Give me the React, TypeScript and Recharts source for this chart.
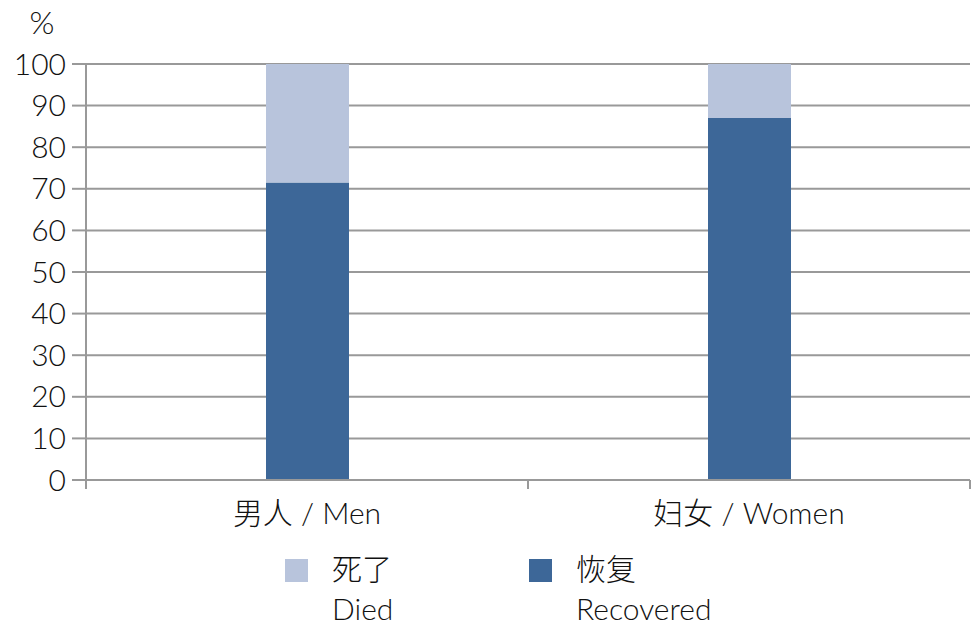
import React from 'react';
import { BarChart, Bar, XAxis, YAxis, CartesianGrid, Legend } from 'recharts';

const categories = ['男人 / Men', '妇女 / Women'];
const recovered = [71.5, 87];
const died = [28.5, 13];
const yTicks = [0, 10, 20, 30, 40, 50, 60, 70, 80, 90, 100];
const seriesZh = { recovered: '恢复', died: '死了' };
const seriesEn = { recovered: 'Recovered', died: 'Died' };

const data = categories.map((c, i) => ({ name: c, recovered: recovered[i], died: died[i] }));

const FONT = "Lato, 'Noto Sans CJK SC', sans-serif";
const WEIGHT = 300;
const GREY = '#999999';
const LIGHT = '#b8c4dc';
const DARK = '#3d6798';

const XTick = (props: any) => {
  const { x, y, payload } = props;
  const off = payload.offset || 0;
  return (
    <g>
      <line x1={x - off} x2={x - off} y1={y - 8} y2={y + 1} stroke={GREY} strokeWidth={2} />
      <line x1={x + off} x2={x + off} y1={y - 8} y2={y + 1} stroke={GREY} strokeWidth={2} />
      <text x={x} y={y + 36} textAnchor="middle" fontSize={30} fontWeight={WEIGHT} fontFamily={FONT} fill="#111">
        {payload.value}
      </text>
    </g>
  );
};

const LegendContent = (props: any) => {
  const items = [...(props.payload || [])].reverse();
  return (
    <div style={{ display: 'flex', paddingLeft: 285, fontFamily: FONT, fontWeight: WEIGHT, color: '#111' }}>
      {items.map((it: any) => (
        <div key={it.dataKey} style={{ display: 'flex', width: 244, alignItems: 'flex-start' }}>
          <div style={{ width: 23, height: 23, background: it.color, marginTop: 11, marginRight: 24 }} />
          <div style={{ fontSize: 30, lineHeight: '40px' }}>
            <div>{(seriesZh as any)[it.dataKey]}</div>
            <div>{(seriesEn as any)[it.dataKey]}</div>
          </div>
        </div>
      ))}
    </div>
  );
};

export default function App() {
  return (
    <div style={{ position: 'absolute', left: 0, top: 0, width: 972, height: 634, background: '#fff' }}>
      <BarChart
        width={972}
        height={634}
        data={data}
        margin={{ top: 64, right: 2, left: 0, bottom: 94 }}
      >
        <CartesianGrid vertical={false} stroke={GREY} strokeWidth={2} />
        <XAxis
          dataKey="name"
          height={60}
          tickLine={false}
          axisLine={{ stroke: GREY, strokeWidth: 2 }}
          tick={<XTick />}
          interval={0}
        />
        <YAxis
          width={86}
          domain={[0, 100]}
          ticks={yTicks}
          interval={0}
          tickSize={14}
          tickMargin={6}
          axisLine={{ stroke: GREY, strokeWidth: 2 }}
          tickLine={{ stroke: GREY, strokeWidth: 2 }}
          tick={{ fontSize: 30, fontWeight: WEIGHT, fontFamily: FONT, fill: '#111' }}
          label={{
            content: (p: any) => (
              <text x={p.viewBox.x + 42} y={p.viewBox.y - 30} textAnchor="middle" fontSize={32} fontWeight={WEIGHT} fontFamily={FONT} fill="#111">
                %
              </text>
            ),
          }}
        />
        <Legend
          layout="horizontal"
          verticalAlign="middle"
          align="center"
          wrapperStyle={{ left: 0, top: 548, width: 972 }}
          content={<LegendContent />}
        />
        <Bar dataKey="recovered" name="恢复 Recovered" stackId="a" fill={DARK} barSize={83} isAnimationActive={false} />
        <Bar dataKey="died" name="死了 Died" stackId="a" fill={LIGHT} barSize={83} isAnimationActive={false} />
      </BarChart>
    </div>
  );
}
